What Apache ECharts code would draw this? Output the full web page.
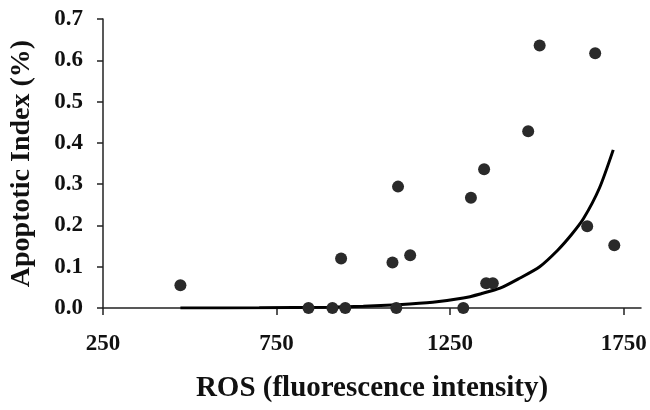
<!DOCTYPE html>
<html>
<head>
<meta charset="utf-8">
<script src="https://cdn.jsdelivr.net/npm/echarts@6/dist/echarts.min.js"></script>
<style>
html, body { margin: 0; padding: 0; background: #fff; }
#chart { width: 650px; height: 410px; }
</style>
</head>
<body>
<div id="chart"></div>
<script>
// scatter points: ROS vs apoptotic index
var rosValues = [473, 842, 911, 936, 948, 1084, 1095, 1100, 1135, 1288, 1310, 1348, 1354, 1373, 1475, 1508, 1645, 1668, 1723];
var apoValues = [0.055, 0, 0, 0.120, 0, 0.110, 0, 0.294, 0.128, 0, 0.267, 0.336, 0.060, 0.060, 0.428, 0.636, 0.198, 0.617, 0.152];

// trend curve
var fitX = [473, 700, 900, 1000, 1100, 1200, 1288, 1341, 1394, 1450, 1508, 1560, 1600, 1634, 1680, 1720];
var fitY = [0, 0.0005, 0.002, 0.004, 0.008, 0.014, 0.024, 0.035, 0.048, 0.072, 0.100, 0.140, 0.178, 0.216, 0.290, 0.383];

var xTicks = [250, 750, 1250, 1750];

var points = [];
for (var i = 0; i < rosValues.length; i++) {
	points.push([rosValues[i], apoValues[i]]);
}
var curve = [];
for (var j = 0; j < fitX.length; j++) {
	curve.push([fitX[j], fitY[j]]);
}

var font = '"Liberation Serif", "Times New Roman", serif';
var myChart = echarts.init(document.getElementById('chart'));
var option = {
	animation: false,
	grid: {
		left: 102,
		right: 9,
		top: 19,
		bottom: 102
	},
	xAxis: {
		type: 'value',
		min: 250,
		max: 1800,
		interval: 500,
		name: 'ROS (fluorescence intensity)',
		nameLocation: 'middle',
		nameGap: 66,
		nameTextStyle: {
			fontFamily: font,
			fontWeight: 'bold',
			fontSize: 29,
			color: '#111'
		},
		axisLine: {
			show: true,
			lineStyle: { color: '#222', width: 1.5 }
		},
		axisTick: {
			show: true,
			length: 7,
			customValues: xTicks,
			lineStyle: { color: '#222', width: 1.5 }
		},
		axisLabel: {
			customValues: xTicks,
			margin: 25,
			fontFamily: font,
			fontWeight: 'bold',
			fontSize: 23,
			color: '#111',
			formatter: function (v) { return String(v); }
		},
		splitLine: { show: false }
	},
	yAxis: {
		type: 'value',
		min: 0,
		max: 0.7,
		interval: 0.1,
		name: 'Apoptotic Index (%)',
		nameLocation: 'middle',
		nameGap: 67,
		nameTextStyle: {
			fontFamily: font,
			fontWeight: 'bold',
			fontSize: 28,
			color: '#111'
		},
		axisLine: {
			show: true,
			lineStyle: { color: '#222', width: 1.5 }
		},
		axisTick: {
			show: true,
			length: 6,
			lineStyle: { color: '#222', width: 1.5 }
		},
		axisLabel: {
			margin: 20,
			fontFamily: font,
			fontWeight: 'bold',
			fontSize: 23,
			color: '#111',
			formatter: function (v) { return v.toFixed(1); }
		},
		splitLine: { show: false }
	},
	series: [{
		type: 'line',
		data: curve,
		smooth: 0.25,
		symbol: 'none',
		lineStyle: { color: '#000', width: 3 },
		z: 2
	}, {
		type: 'scatter',
		data: points,
		symbolSize: 12,
		itemStyle: { color: '#2a2a2a', opacity: 1 },
		z: 3
	}]
};
myChart.setOption(option);
</script>
</body>
</html>
